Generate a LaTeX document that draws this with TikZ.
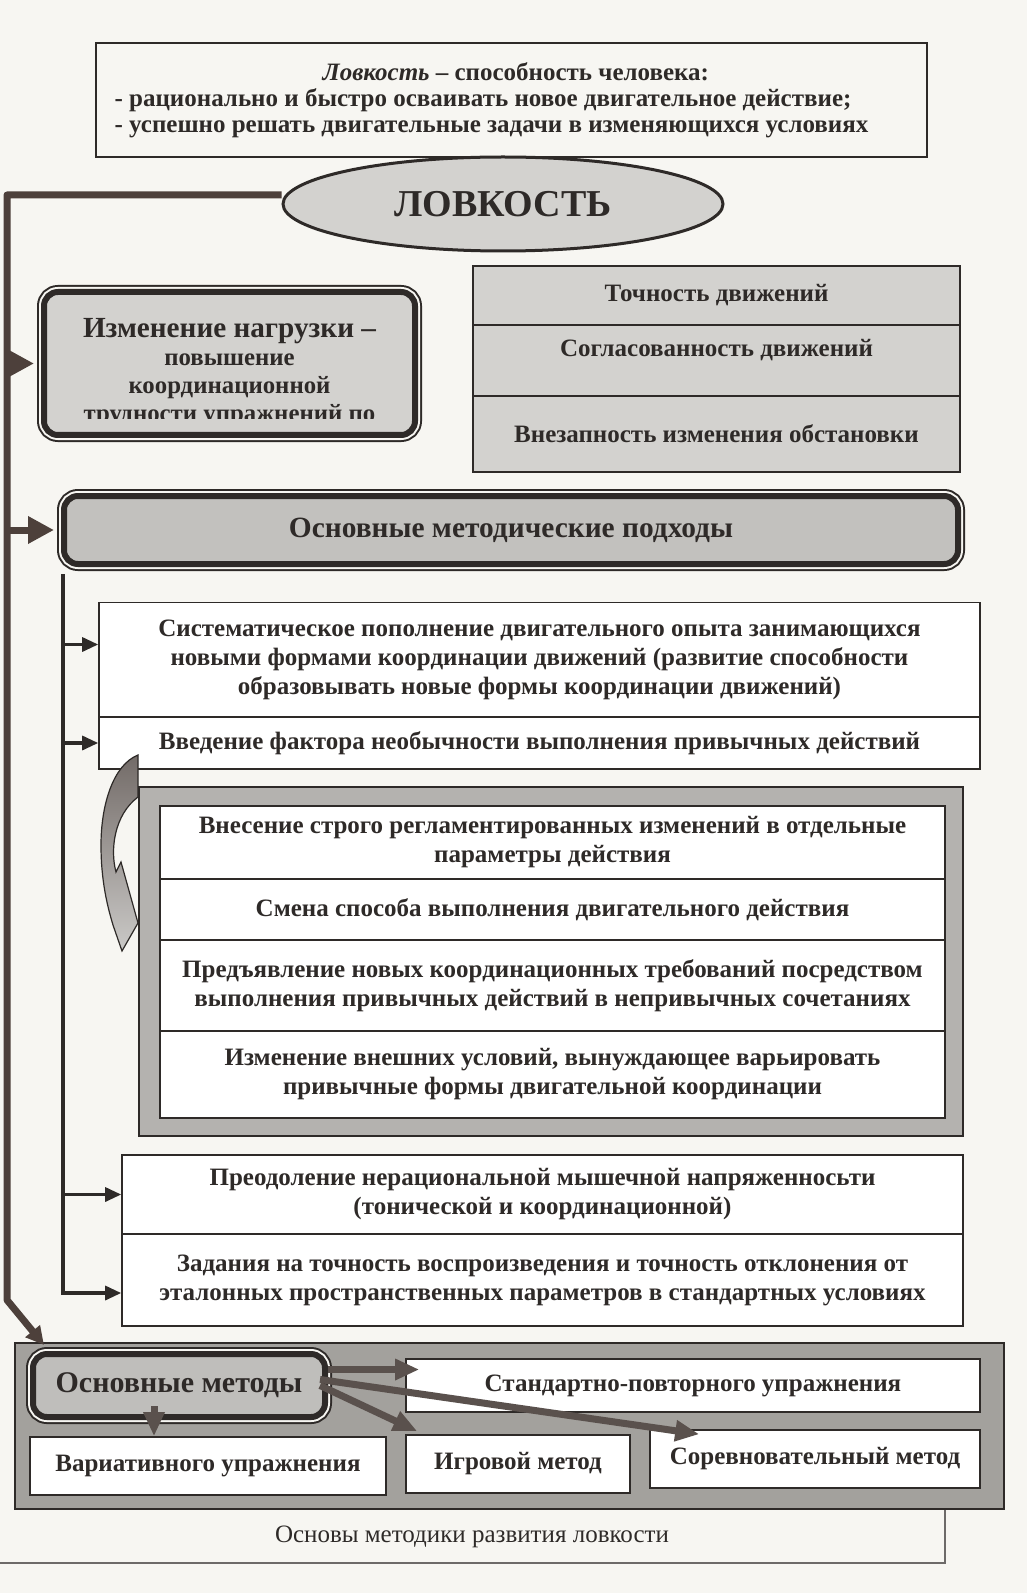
\documentclass[tikz,border=0pt]{standalone}
\usepackage{fontspec}
\setmainfont{Liberation Serif}
\usetikzlibrary{shapes.geometric, arrows.meta, positioning, calc}
\definecolor{ink}{HTML}{2E2A28}
\definecolor{trunkc}{HTML}{4D403B}
\definecolor{paper}{HTML}{F7F6F2}
\definecolor{greyA}{HTML}{D3D2CF}
\definecolor{greyB}{HTML}{B4B2AF}
\definecolor{greyC}{HTML}{A3A19D}
\definecolor{arrc}{HTML}{5A514D}

\begin{document}
\begin{tikzpicture}[x=0.5pt, y=-0.5pt,
  every node/.style={inner sep=2pt, text=ink},
  txt/.style={font=\fontsize{12.5}{14.5}\selectfont\bfseries, align=center},
  cell/.style={txt, draw=ink, line width=0.8pt, fill=white},
  shaded/.style={cell, fill=greyA, font=\fontsize{12.5}{14}\selectfont\bfseries},
  roundbox/.style={txt, rounded corners=7pt, fill=greyA,
    preaction={draw=ink, line width=7pt},
    preaction={draw=paper, line width=5pt},
    draw=ink, line width=3pt},
  trunk/.style={draw=trunkc, line width=3.5pt, line join=round},
  trunkarr/.style={trunk, -{Triangle[length=13pt, width=13pt]}},
  endarr/.style={trunk, -{Triangle[length=9pt, width=9pt]}},
  stemline/.style={draw=ink, line width=1.6pt},
  stemarr/.style={stemline, -{Triangle[length=8pt, width=7pt]}},
  marr/.style={draw=arrc, line width=3.5pt, -{Triangle[length=12pt, width=10pt]}},
]
  \useasboundingbox (0,0) rectangle (1027,1593);
  \fill[paper] (0,0) rectangle (1027,1593);

  % definition and title
  \node[cell, fill=paper, minimum width=415.5pt, minimum height=57pt, align=left,
    font=\fontsize{12.5}{13}\selectfont\bfseries] (def) at (511.5,100)
    {\hspace*{104pt}{\itshape Ловкость} -- способность человека:\\
     - рационально и быстро осваивать новое двигательное действие;\\
     - успешно решать двигательные задачи в изменяющихся условиях\hspace*{20pt}};
  \node[ellipse, draw=ink, line width=1.5pt, fill=greyA, inner sep=0pt,
    minimum width=220pt, minimum height=47pt,
    font=\fontsize{19}{20}\selectfont\bfseries] (main) at (503,204) {ЛОВКОСТЬ};

  % load box, its text is cut by the frame
  \node[roundbox, minimum width=185.5pt, minimum height=71.5pt] (load) at (229.5,363.5) {};
  \begin{scope}
    \clip ([xshift=3pt,yshift=-3pt]load.north west) rectangle ([xshift=-3pt,yshift=9.5pt]load.south east);
    \node[txt, font=\fontsize{12.4}{14}\selectfont\bfseries, anchor=north, inner sep=0pt] (loadtxt)
      at ([yshift=-14.5pt]load.north)
      {{\fontsize{14.6}{16}\selectfont Изменение нагрузки --}\\повышение\\координационной\\трудности упражнений по};
  \end{scope}

  % traits
  \node[shaded, minimum width=243.5pt, minimum height=29.5pt] (t1) at (716.5,295.5) {Точность движений};
  \node[shaded, minimum width=243.5pt, minimum height=35.5pt, text depth=13pt] (t2) at (716.5,360.5) {Согласованность движений};
  \node[shaded, minimum width=243.5pt, minimum height=38pt] (t3) at (716.5,434) {Внезапность изменения обстановки};

  % approaches
  \node[roundbox, fill=greyA!92!black, minimum width=447pt, minimum height=34pt,
    font=\fontsize{14.7}{16}\selectfont\bfseries] (approach) at (511,530) {Основные методические подходы};

  \node[cell, minimum width=440.5pt, minimum height=57pt] (r1a) at (539.5,659.5)
    {Систематическое пополнение двигательного опыта занимающихся\\
     новыми формами координации движений (развитие способности\\
     образовывать новые формы координации движений)};
  \node[cell, minimum width=440.5pt, minimum height=26pt] (r1b) at (539.5,743)
    {Введение фактора необычности выполнения привычных действий};

  % curved arrow into the frame
  \draw[ink, line width=0.6pt, top color=arrc!85, bottom color=greyB!70]
    (138,755) .. controls (113,765) and (101,805) .. (101,845)
    .. controls (101,880) and (107,905) .. (113,925) -- (122,951) -- (138,923)
    -- (121,862) -- (116,872) .. controls (110,850) and (114,815) .. (138,797) -- cycle;

  \node[draw=ink, line width=0.6pt, fill=greyB, minimum width=412pt, minimum height=174.5pt] (frame) at (551,961.5) {};
  \node[cell, minimum width=392.5pt, minimum height=36.5pt] (r2a) at (552.5,842.5)
    {Внесение строго регламентированных изменений в отдельные\\параметры действия};
  \node[cell, minimum width=392.5pt, minimum height=30.5pt] (r2b) at (552.5,909.5)
    {Смена способа выполнения двигательного действия};
  \node[cell, minimum width=392.5pt, minimum height=45.5pt] (r2c) at (552.5,985.5)
    {Предъявление новых координационных требований посредством\\
     выполнения привычных действий в непривычных сочетаниях};
  \node[cell, minimum width=392.5pt, minimum height=43.5pt] (r2d) at (552.5,1074.5)
    {Изменение внешних условий, вынуждающее варьировать\\привычные формы двигательной координации};

  \node[cell, minimum width=420.5pt, minimum height=39.5pt] (r3a) at (542.5,1194.5)
    {Преодоление нерациональной мышечной напряженносьти\\(тонической и координационной)};
  \node[cell, minimum width=420.5pt, minimum height=46pt] (r3b) at (542.5,1280)
    {Задания на точность воспроизведения и точность отклонения от\\
     эталонных пространственных параметров в стандартных условиях};

  % methods
  \node[draw=ink, line width=0.8pt, fill=greyC, minimum width=494.5pt, minimum height=83pt] (panel) at (509.5,1426) {};
  \node[roundbox, fill=greyB!85, minimum width=146pt, minimum height=31.5pt,
    font=\fontsize{15}{16}\selectfont\bfseries] (methods) at (179,1385.5) {Основные методы};
  \node[shaded, fill=white, minimum width=287pt, minimum height=26.5pt] (std) at (693,1385.5) {Стандартно-повторного упражнения};
  \node[shaded, fill=white, minimum width=178pt, minimum height=29pt] (var) at (208,1466) {Вариативного упражнения};
  \node[shaded, fill=white, minimum width=112pt, minimum height=29pt] (game) at (518,1464) {Игровой метод};
  \node[shaded, fill=white, minimum width=165pt, minimum height=29pt] (comp) at (815,1459) {Соревновательный метод};

  \node[font=\fontsize{12.5}{13}\selectfont] (cap) at (472,1537) {Основы методики развития ловкости};
  \coordinate (cr) at (945,1563);
  \coordinate (cl) at (0,1563);
  \draw[ink!70, line width=0.6pt] (cr |- panel.south) -- (cr) -- (cl);

  % trunk on the left
  \coordinate (tl) at (7,195);
  \coordinate (tb) at (7,1300);
  \draw[endarr] (main.west |- tl) -- (tl) -- (tb) -- ([xshift=7pt,yshift=3pt]methods.north west);
  \draw[trunkarr] (tl |- load.west) -- ([xshift=-3.5pt]load.west);
  \draw[trunkarr] (tl |- approach.west) -- ([xshift=-3.5pt]approach.west);

  % stem under the approaches
  \coordinate (sx) at (63,0);
  \coordinate (a1) at ([yshift=7.5pt]r1a.west);
  \coordinate (a4) at ([yshift=-6.5pt]r3b.west);
  \draw[stemarr] ([yshift=-3.5pt]approach.south -| sx) |- (a4);
  \draw[stemarr] (sx |- a1) -- (a1);
  \draw[stemarr] (sx |- r1b.west) -- (r1b.west);
  \draw[stemarr] (sx |- r3a.west) -- (r3a.west);

  % arrows of the methods
  \coordinate (mdown) at ([xshift=-12.5pt]methods.south);
  \draw[marr] ([yshift=7pt]mdown) -- (mdown |- var.north);
  \draw[marr] ([yshift=8pt]methods.east) -- ([xshift=7pt,yshift=8pt]std.west);
  \draw[marr] ([xshift=-4pt]methods.east) -- ([xshift=6pt,yshift=1.5pt]game.north west);
  \draw[marr] ([xshift=-4pt,yshift=3pt]methods.east) -- ([xshift=25pt,yshift=-2.5pt]comp.north west);
\end{tikzpicture}
\end{document}
